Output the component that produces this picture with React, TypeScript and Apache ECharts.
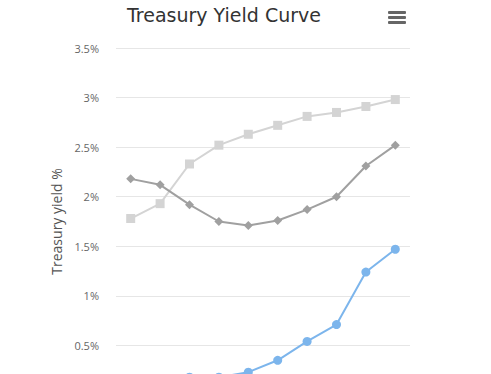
import React, { useEffect, useRef } from "react";
import * as echarts from "echarts";

const categories = ["1 mo", "3 mo", "6 mo", "1 yr", "2 yr", "3 yr", "5 yr", "7 yr", "10 yr", "30 yr"];
const seriesLight = [1.78, 1.93, 2.33, 2.52, 2.63, 2.72, 2.81, 2.85, 2.91, 2.98];
const seriesDark = [2.18, 2.12, 1.92, 1.75, 1.71, 1.76, 1.87, 2.0, 2.31, 2.52];
const seriesBlue = [0.05, 0.07, 0.18, 0.18, 0.23, 0.35, 0.54, 0.71, 1.24, 1.47];
const yTicks = { min: 0, max: 3.5, interval: 0.5 };

export default function App() {
  const ref = useRef<HTMLDivElement>(null);
  useEffect(() => {
    if (!ref.current) return;
    const chart = echarts.init(ref.current, undefined, { renderer: "svg" });
    const font = "'DejaVu Sans', 'Open Sans', sans-serif";
    const font2 = "'Open Sans', 'DejaVu Sans', sans-serif";
    chart.setOption({
      animation: false,
      title: {
        text: "Treasury Yield Curve",
        left: 219,
        top: 0,
        textAlign: "center",
        textStyle: { fontSize: 19, fontWeight: "normal", color: "#333333", fontFamily: font },
      },
      grid: { left: 116, right: 81, top: 48, height: 347 },
      xAxis: {
        type: "category",
        data: categories,
        axisLine: { lineStyle: { color: "#ccd6eb" } },
        axisTick: { show: false },
        axisLabel: { color: "#666666", fontSize: 11, fontFamily: font2 },
      },
      yAxis: {
        type: "value",
        min: yTicks.min,
        max: yTicks.max,
        interval: yTicks.interval,
        name: "Treasury yield %",
        nameLocation: "middle",
        nameGap: 53,
        nameTextStyle: { color: "#555555", fontSize: 14, fontFamily: font2 },
        axisLine: { show: false },
        axisTick: { show: false },
        axisLabel: {
          color: "#666666",
          fontSize: 11,
          fontFamily: font2,
          margin: 17,
          formatter: (v: number) => v + "%",
        },
        splitLine: { lineStyle: { color: "#e6e6e6", width: 1 } },
      },
      series: [
        {
          type: "line",
          data: seriesLight,
          symbol: "rect",
          symbolSize: 9,
          lineStyle: { color: "#d4d4d4", width: 2 },
          itemStyle: { color: "#d4d4d4" },
        },
        {
          type: "line",
          data: seriesDark,
          symbol: "diamond",
          symbolSize: 9,
          lineStyle: { color: "#a0a0a0", width: 2 },
          itemStyle: { color: "#a0a0a0" },
        },
        {
          type: "line",
          data: seriesBlue,
          symbol: "circle",
          symbolSize: 9,
          lineStyle: { color: "#7cb5ec", width: 2 },
          itemStyle: { color: "#7cb5ec" },
        },
      ],
      graphic: [
        { type: "rect", shape: { x: 388, y: 11, width: 18, height: 3, r: 1 }, style: { fill: "#666666" } },
        { type: "rect", shape: { x: 388, y: 16, width: 18, height: 3, r: 1 }, style: { fill: "#666666" } },
        { type: "rect", shape: { x: 388, y: 21, width: 18, height: 3, r: 1 }, style: { fill: "#666666" } },
      ],
    });
    return () => chart.dispose();
  }, []);
  return (
    <div
      ref={ref}
      style={{ position: "absolute", left: 0, top: 0, width: 491, height: 440 }}
    />
  );
}
